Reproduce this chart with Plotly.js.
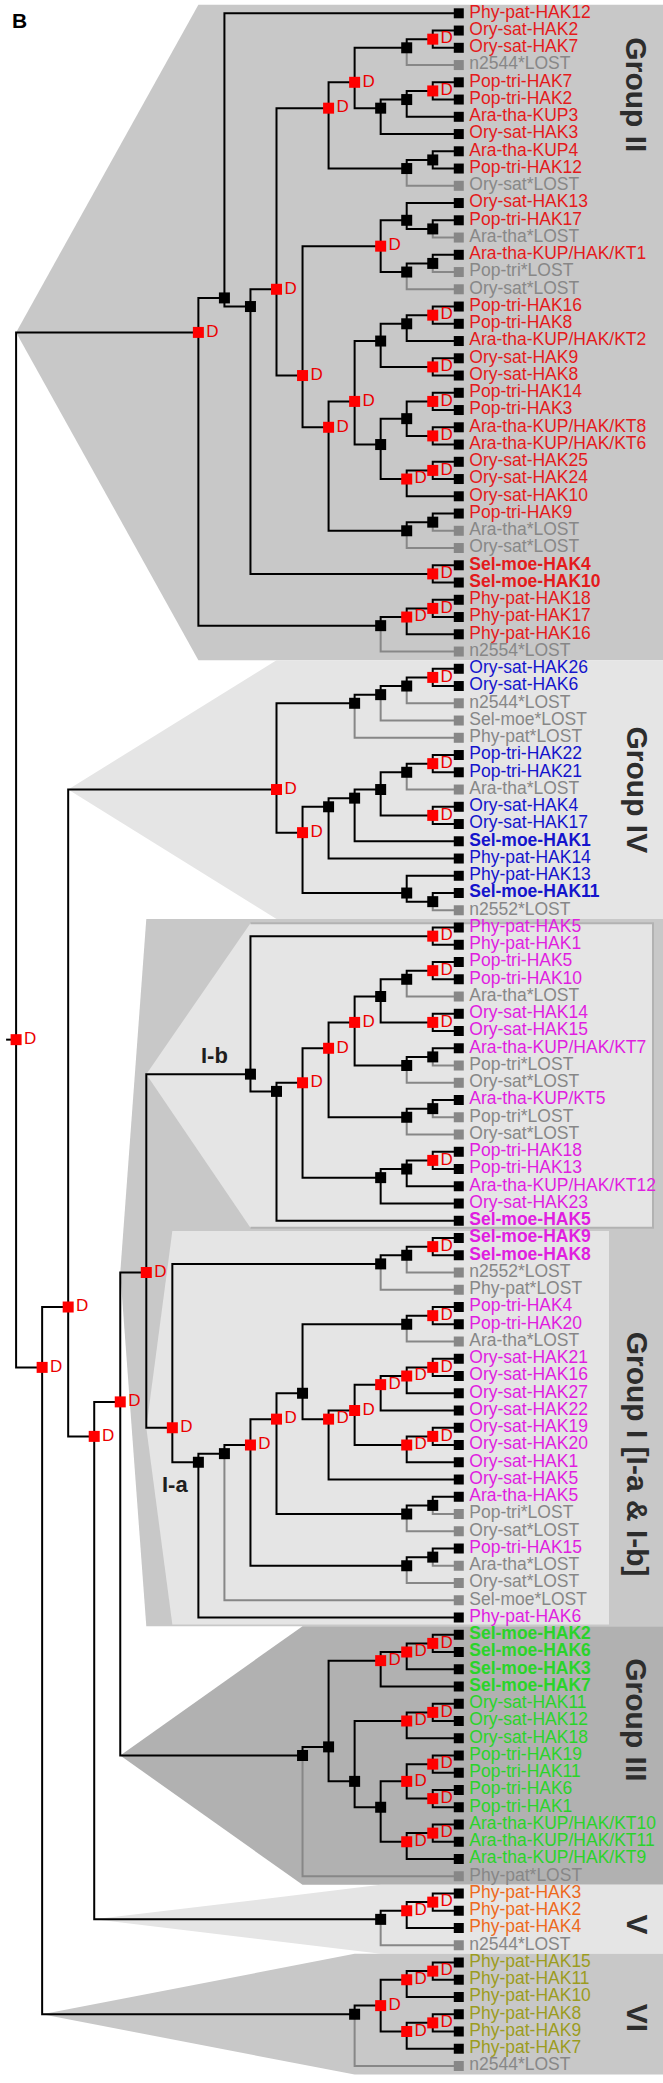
<!DOCTYPE html>
<html><head><meta charset="utf-8">
<script src="https://cdn.plot.ly/plotly-3.0.1.min.js"></script>
<style>html,body{margin:0;padding:0;background:#fff;overflow:hidden}</style>
</head><body><div id="chart" style="width:663px;height:2083px"></div>
<script>
// ---------------- data ----------------
const leafLabels = [
 "Phy-pat-HAK12","Ory-sat-HAK2","Ory-sat-HAK7","n2544*LOST","Pop-tri-HAK7","Pop-tri-HAK2","Ara-tha-KUP3","Ory-sat-HAK3",
 "Ara-tha-KUP4","Pop-tri-HAK12","Ory-sat*LOST","Ory-sat-HAK13","Pop-tri-HAK17","Ara-tha*LOST","Ara-tha-KUP/HAK/KT1","Pop-tri*LOST",
 "Ory-sat*LOST","Pop-tri-HAK16","Pop-tri-HAK8","Ara-tha-KUP/HAK/KT2","Ory-sat-HAK9","Ory-sat-HAK8","Pop-tri-HAK14","Pop-tri-HAK3",
 "Ara-tha-KUP/HAK/KT8","Ara-tha-KUP/HAK/KT6","Ory-sat-HAK25","Ory-sat-HAK24","Ory-sat-HAK10","Pop-tri-HAK9","Ara-tha*LOST","Ory-sat*LOST",
 "Sel-moe-HAK4","Sel-moe-HAK10","Phy-pat-HAK18","Phy-pat-HAK17","Phy-pat-HAK16","n2554*LOST",
 "Ory-sat-HAK26","Ory-sat-HAK6","n2544*LOST","Sel-moe*LOST","Phy-pat*LOST","Pop-tri-HAK22","Pop-tri-HAK21","Ara-tha*LOST",
 "Ory-sat-HAK4","Ory-sat-HAK17","Sel-moe-HAK1","Phy-pat-HAK14","Phy-pat-HAK13","Sel-moe-HAK11","n2552*LOST",
 "Phy-pat-HAK5","Phy-pat-HAK1","Pop-tri-HAK5","Pop-tri-HAK10","Ara-tha*LOST","Ory-sat-HAK14","Ory-sat-HAK15","Ara-tha-KUP/HAK/KT7",
 "Pop-tri*LOST","Ory-sat*LOST","Ara-tha-KUP/KT5","Pop-tri*LOST","Ory-sat*LOST","Pop-tri-HAK18","Pop-tri-HAK13","Ara-tha-KUP/HAK/KT12",
 "Ory-sat-HAK23","Sel-moe-HAK5",
 "Sel-moe-HAK9","Sel-moe-HAK8","n2552*LOST","Phy-pat*LOST","Pop-tri-HAK4","Pop-tri-HAK20","Ara-tha*LOST","Ory-sat-HAK21",
 "Ory-sat-HAK16","Ory-sat-HAK27","Ory-sat-HAK22","Ory-sat-HAK19","Ory-sat-HAK20","Ory-sat-HAK1","Ory-sat-HAK5","Ara-tha-HAK5",
 "Pop-tri*LOST","Ory-sat*LOST","Pop-tri-HAK15","Ara-tha*LOST","Ory-sat*LOST","Sel-moe*LOST","Phy-pat-HAK6",
 "Sel-moe-HAK2","Sel-moe-HAK6","Sel-moe-HAK3","Sel-moe-HAK7","Ory-sat-HAK11","Ory-sat-HAK12","Ory-sat-HAK18","Pop-tri-HAK19",
 "Pop-tri-HAK11","Pop-tri-HAK6","Pop-tri-HAK1","Ara-tha-KUP/HAK/KT10","Ara-tha-KUP/HAK/KT11","Ara-tha-KUP/HAK/KT9","Phy-pat*LOST",
 "Phy-pat-HAK3","Phy-pat-HAK2","Phy-pat-HAK4","n2544*LOST",
 "Phy-pat-HAK15","Phy-pat-HAK11","Phy-pat-HAK10","Phy-pat-HAK8","Phy-pat-HAK9","Phy-pat-HAK7","n2544*LOST"
];

// tree topology: "(children)<level>[D]" ; leaves are indices into leafLabels ; D = duplication node
const treeGroupII = "((0,((((((1,2)16D,3)15,(((4,5)16D,6)15,7)14)13D,((8,9)16,10)15)12D,(((11,(12,13)16)15,((14,15)16,16)15)14D,(((((17,18)16D,19)15,(20,21)16D)14,(((22,23)16D,(24,25)16D)15,((26,27)16D,28)15D)14)13D,((29,30)16,31)15)12D)11D)10D,(32,33)16D)9)8,(((34,35)16D,36)15D,37)14)7D";
const treeGroupIV = "(((((38,39)16D,40)15,41)14,42)13,((((((43,44)16D,45)15,(46,47)16D)14,48)13,49)12,(50,(51,52)16)15)11D)10D";
const treeGroupIb = "((53,54)16D,(((((((55,56)16D,57)15,(58,59)16D)14,((60,61)16,62)15)13D,((63,64)16,65)15)12D,(((66,67)16D,68)15,69)14)11D,70)10)9";
const treeGroupIa = "((((71,72)16D,73)15,74)14,(((((((75,76)16D,77)15,(((((78,79)16D,80)15D,81)14D,((82,83)16D,84)15D)13D,85)12D)11,((86,87)16,88)15)10D,((89,90)16,91)15)9D,92)8,93)7)6D";
const treeGroupIII = "(((((94,95)16D,96)15D,97)14D,(((98,99)16D,100)15D,(((101,102)16D,(103,104)16D)15D,((105,106)16D,107)15D)14)13)12,108)11";
const treeGroupV = "(((109,110)16D,111)15D,112)14";
const treeGroupVI = "((((113,114)16D,115)15D,((116,117)16D,118)15D)14D,119)13";
const treeNewick = "(" + treeGroupII + ",((" + treeGroupIV + ",(((" + treeGroupIb + "," + treeGroupIa + ")5D," +
                   treeGroupIII + ")4D," + treeGroupV + ")3D)2D," + treeGroupVI + ")1D)0D";

const groupLabels    = ["Group II","Group IV","Group I [I-a & I-b]","Group III","V","VI"];
const groupFirstLeaf = [0, 38, 53, 94, 109, 113];
const groupLastLeaf  = [37, 52, 93, 108, 112, 119];
const groupTextColor = ["#e41a1c","#1414cc","#e01ee0","#2ad42a","#ee6a1c","#9c9c1e"];
const subgroupLabels    = ["I-b","I-a"];
const subgroupFirstLeaf = [53, 71];
const subgroupLastLeaf  = [70, 93];

// ---------------- layout / style constants ----------------
const X0 = 16.1, DX = 26.04, LEAF_LEVEL = 17, ROOT_STUB = 10, LABEL_GAP = 10.5;
const levelX = l => X0 + DX * l;
const Y_TOP = -0.771, Y_BOT = 119.986;       // leaf-index units at page top / bottom
const groupFill = ["rgb(200,200,200)","rgb(229,229,229)","rgb(200,200,200)","rgb(177,177,177)","rgb(229,229,229)","rgb(200,200,200)"];
const groupRight = [663, 663, 663, 663, 663, 663];
const groupLabelX = 637;
const groupLabelY = [4.7, 45, 83.5, 98.9, 110.8, 116.2];
const subFill = "rgb(229,229,229)";
const subRight = [653, 609];
const subInset = [[0.25, 0.1], [0.1, 0.1]];
const subLabelX = [214, 175];
const subLabelY = [60.4, 85.3];
const FONT = "Liberation Sans, Arial, sans-serif";
const LOST_COLOR = "rgb(135,135,135)";

// ---------------- parse tree ----------------
function parseTree(s) {
  let i = 0;
  function num() { let n = ""; while (i < s.length && /\d/.test(s[i])) n += s[i++]; return +n; }
  function node() {
    if (s[i] === "(") {
      i++;
      const ch = [node()];
      while (s[i] === ",") { i++; ch.push(node()); }
      i++; // ')'
      const level = num();
      let dup = false;
      if (s[i] === "D") { dup = true; i++; }
      return { children: ch, level, dup };
    }
    return { leaf: num() };
  }
  return node();
}
const isLost = k => leafLabels[k].indexOf("LOST") >= 0;
const root = parseTree(treeNewick);
const internal = [];
(function lay(n, parent) {
  n.parent = parent;
  if (n.children === undefined) {
    n.leaves = [n.leaf]; n.y = n.leaf; n.x = levelX(LEAF_LEVEL); n.lost = isLost(n.leaf); return;
  }
  n.children.forEach(c => lay(c, n));
  n.leaves = [].concat(...n.children.map(c => c.leaves));
  n.y = n.leaves.reduce((a, b) => a + b, 0) / n.leaves.length;
  n.x = levelX(n.level);
  n.lost = n.children.every(c => c.lost);
  internal.push(n);
})(root, null);

function findClade(first, last) {
  return internal.find(n => n.leaves.length === last - first + 1 && Math.min(...n.leaves) === first);
}

// ---------------- edges ----------------
const blk = { x: [root.x - ROOT_STUB, root.x, null], y: [root.y, root.y, null] }, gry = { x: [], y: [] };
internal.forEach(p => {
  p.children.forEach(c => {
    const t = c.lost ? gry : blk;
    t.x.push(p.x, p.x, c.x, null);
    t.y.push(p.y, c.y, c.y, null);
  });
});

const traces = [];
traces.push({ x: gry.x, y: gry.y, mode: "lines", line: { color: LOST_COLOR, width: 2 }, hoverinfo: "skip" });
traces.push({ x: blk.x, y: blk.y, mode: "lines", line: { color: "black", width: 2 }, hoverinfo: "skip" });

const spec = internal.filter(n => !n.dup), dups = internal.filter(n => n.dup);
traces.push({ x: spec.map(n => n.x), y: spec.map(n => n.y), mode: "markers",
  marker: { symbol: "square", size: 11, color: "black" }, hoverinfo: "skip" });
traces.push({ x: dups.map(n => n.x), y: dups.map(n => n.y), mode: "markers+text", text: dups.map(() => "D"),
  textposition: "middle right", textfont: { family: FONT, size: 17, color: "rgb(235,0,0)" },
  marker: { symbol: "square", size: 11, color: "rgb(255,0,0)" }, hoverinfo: "skip" });

// leaves
const leafIdx = leafLabels.map((_, k) => k);
function leafColor(k) {
  if (isLost(k)) return LOST_COLOR;
  const g = groupFirstLeaf.findIndex((f, gi) => k >= f && k <= groupLastLeaf[gi]);
  return groupTextColor[g];
}
traces.push({
  x: leafIdx.map(() => levelX(LEAF_LEVEL)), y: leafIdx, mode: "markers",
  marker: { symbol: "square", size: 10, color: leafIdx.map(k => isLost(k) ? LOST_COLOR : "black") },
  hoverinfo: "skip"
});
traces.push({
  x: leafIdx.map(() => levelX(LEAF_LEVEL) + LABEL_GAP), y: leafIdx, mode: "text",
  text: leafLabels.map((t, k) => (t.startsWith("Sel-moe-") && !isLost(k)) ? "<b>" + t + "</b>" : t),
  textposition: "middle right",
  textfont: { family: FONT, size: 17.5, color: leafIdx.map(leafColor) },
  hoverinfo: "skip"
});

// ---------------- background shapes ----------------
const shapes = [];
function wedgeBox(node, top, bottom, right, fill) {
  const ax = node.parent ? node.parent.x : node.x, ay = node.y;
  return { type: "path", xref: "x", yref: "y", layer: "below", fillcolor: fill, line: { width: 0 },
    path: `M${ax},${ay} L${node.x},${top} L${right},${top} L${right},${bottom} L${node.x},${bottom} Z` };
}
groupFirstLeaf.forEach((f, g) => {
  const n = findClade(f, groupLastLeaf[g]);
  if (n) shapes.push(wedgeBox(n, f - 0.5, groupLastLeaf[g] + 0.5, groupRight[g], groupFill[g]));
});
subgroupFirstLeaf.forEach((f, s) => {
  const n = findClade(f, subgroupLastLeaf[s]);
  if (!n) return;
  const top = f - 0.5 + subInset[s][0], bot = subgroupLastLeaf[s] + 0.5 - subInset[s][1];
  shapes.push(wedgeBox(n, top, bot, subRight[s], subFill));
  if (s === 0) {
    shapes.push({ type: "path", xref: "x", yref: "y", layer: "below", line: { color: "rgb(178,178,178)", width: 2 },
      path: `M${n.x},${top} L${subRight[s]},${top} L${subRight[s]},${bot} L${n.x},${bot}` });
  }
});

// ---------------- annotations ----------------
const annotations = [];
groupLabels.forEach((t, g) => annotations.push({
  x: groupLabelX, y: groupLabelY[g], xref: "x", yref: "y", text: "<b>" + t + "</b>", showarrow: false,
  textangle: 90, font: { family: FONT, size: 30, color: "rgb(45,45,45)" }, xanchor: "center", yanchor: "middle"
}));
subgroupLabels.forEach((t, s) => annotations.push({
  x: subLabelX[s], y: subLabelY[s], xref: "x", yref: "y", text: "<b>" + t + "</b>", showarrow: false,
  font: { family: FONT, size: 22, color: "rgb(30,30,30)" }, xanchor: "center", yanchor: "middle"
}));
annotations.push({ x: 19, y: 0.39, xref: "x", yref: "y", text: "<b>B</b>", showarrow: false,
  font: { family: FONT, size: 21, color: "black" }, xanchor: "center", yanchor: "middle" });

Plotly.newPlot("chart", traces, {
  width: 663, height: 2083, margin: { l: 0, r: 0, t: 0, b: 0, pad: 0 },
  paper_bgcolor: "white", plot_bgcolor: "white", showlegend: false,
  xaxis: { range: [0, 663], visible: false, fixedrange: true },
  yaxis: { range: [Y_BOT, Y_TOP], visible: false, fixedrange: true },
  shapes, annotations
}, { displayModeBar: false, staticPlot: true });
</script></body></html>
